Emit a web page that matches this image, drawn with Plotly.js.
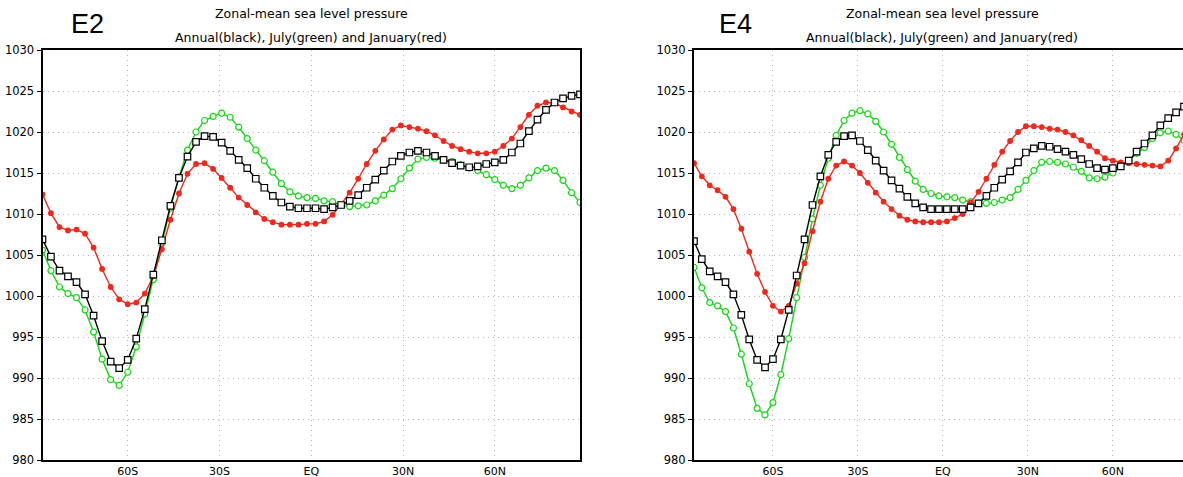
<!DOCTYPE html>
<html>
<head>
<meta charset="utf-8">
<script src="https://cdn.plot.ly/plotly-3.0.1.min.js"></script>
<style>
  html, body { margin: 0; padding: 0; background: #fff; overflow: hidden; }
  #chart { width: 1183px; height: 477px; }
</style>
</head>
<body>
<div id="chart"></div>
<script>
// Gaussian-grid latitudes (degrees)
const lat = [-87.86, -85.10, -82.31, -79.53, -76.74, -73.95, -71.16, -68.37, -65.58, -62.79,
  -60.00, -57.21, -54.42, -51.63, -48.84, -46.04, -43.25, -40.46, -37.67, -34.88,
  -32.09, -29.30, -26.51, -23.72, -20.93, -18.14, -15.35, -12.56, -9.77, -6.98,
  -4.19, -1.40, 1.40, 4.19, 6.98, 9.77, 12.56, 15.35, 18.14, 20.93,
  23.72, 26.51, 29.30, 32.09, 34.88, 37.67, 40.46, 43.25, 46.04, 48.84,
  51.63, 54.42, 57.21, 60.00, 62.79, 65.58, 68.37, 71.16, 73.95, 76.74,
  79.53, 82.31, 85.10, 87.86];

// E2 panel (hPa)
const annualE2 = [1006.9, 1004.8, 1003.1, 1002.4, 1001.7, 1000.2, 997.6, 994.5, 992.0, 991.2,
  992.2, 994.8, 998.4, 1002.6, 1006.8, 1011.0, 1014.4, 1017.0, 1018.8, 1019.5,
  1019.4, 1018.7, 1017.7, 1016.6, 1015.6, 1014.3, 1013.2, 1012.2, 1011.4, 1010.9,
  1010.7, 1010.7, 1010.7, 1010.6, 1010.8, 1011.1, 1011.6, 1012.3, 1013.2, 1014.2,
  1015.3, 1016.4, 1017.1, 1017.5, 1017.7, 1017.5, 1017.1, 1016.6, 1016.2, 1015.9,
  1015.7, 1015.8, 1016.1, 1016.3, 1016.6, 1017.5, 1018.6, 1020.1, 1021.5, 1022.7,
  1023.6, 1024.1, 1024.4, 1024.6];
const julyE2 = [1005.6, 1003.1, 1001.1, 1000.3, 999.8, 998.3, 995.6, 992.3, 989.8, 989.1,
  990.7, 993.8, 997.8, 1002.0, 1006.4, 1010.7, 1014.5, 1017.8, 1020.0, 1021.4,
  1021.9, 1022.3, 1021.8, 1020.6, 1019.2, 1017.8, 1016.5, 1015.1, 1013.7, 1012.7,
  1012.2, 1012.0, 1011.9, 1011.6, 1011.5, 1011.1, 1010.9, 1011.0, 1011.1, 1011.6,
  1012.3, 1013.1, 1014.3, 1015.6, 1016.7, 1016.9, 1016.8, 1016.6, 1016.4, 1016.0,
  1015.6, 1015.3, 1014.8, 1014.2, 1013.5, 1013.1, 1013.5, 1014.4, 1015.3, 1015.6,
  1015.3, 1014.1, 1012.6, 1011.4];
const januaryE2 = [1012.4, 1010.1, 1008.4, 1008.0, 1008.1, 1007.6, 1005.9, 1003.3, 1001.1, 999.6,
  999.0, 999.2, 1000.3, 1002.4, 1005.7, 1009.3, 1012.5, 1014.9, 1016.1, 1016.2,
  1015.5, 1014.4, 1013.2, 1012.0, 1011.1, 1010.2, 1009.4, 1009.0, 1008.7, 1008.7,
  1008.7, 1008.8, 1008.8, 1009.1, 1009.9, 1011.2, 1012.6, 1014.3, 1016.1, 1017.7,
  1019.1, 1020.3, 1020.8, 1020.6, 1020.4, 1020.1, 1019.6, 1018.9, 1018.3, 1017.9,
  1017.6, 1017.4, 1017.4, 1017.6, 1018.3, 1019.2, 1020.6, 1022.1, 1023.2, 1023.6,
  1023.5, 1023.0, 1022.5, 1022.1];

// E4 panel (hPa), visible up to 85.10N
const annualE4 = [1006.7, 1004.5, 1003.0, 1002.4, 1001.7, 1000.2, 997.7, 994.7, 992.2, 991.3,
  992.3, 994.7, 998.3, 1002.5, 1006.9, 1011.1, 1014.6, 1017.2, 1018.8, 1019.5,
  1019.6, 1018.9, 1017.8, 1016.5, 1015.3, 1014.1, 1013.1, 1012.1, 1011.3, 1010.8,
  1010.6, 1010.6, 1010.6, 1010.6, 1010.6, 1010.8, 1011.3, 1012.2, 1013.2, 1014.2,
  1015.2, 1016.3, 1017.5, 1018.0, 1018.3, 1018.2, 1017.9, 1017.6, 1017.2, 1016.7,
  1016.1, 1015.6, 1015.4, 1015.6, 1015.8, 1016.5, 1017.6, 1018.6, 1019.6, 1020.8,
  1021.7, 1022.4, 1023.1];
const julyE4 = [1003.5, 1001.0, 999.2, 998.8, 998.1, 996.1, 992.9, 989.3, 986.3, 985.5,
  987.0, 990.4, 994.8, 999.8, 1004.7, 1009.4, 1013.5, 1016.8, 1019.6, 1021.4,
  1022.3, 1022.6, 1022.2, 1021.3, 1020.0, 1018.5, 1016.9, 1015.4, 1014.0, 1013.0,
  1012.5, 1012.2, 1012.1, 1012.0, 1011.7, 1011.5, 1011.3, 1011.3, 1011.4, 1011.7,
  1012.0, 1013.0, 1014.1, 1015.3, 1016.3, 1016.4, 1016.3, 1016.1, 1015.7, 1015.2,
  1014.4, 1014.3, 1014.5, 1015.0, 1015.9, 1016.5, 1017.4, 1018.1, 1019.2, 1019.9,
  1020.1, 1019.7, 1019.0];
const januaryE4 = [1016.2, 1014.6, 1013.5, 1012.9, 1012.1, 1010.6, 1008.2, 1005.4, 1002.7, 1000.5,
  998.8, 998.1, 998.8, 1001.5, 1004.0, 1007.9, 1011.5, 1014.3, 1015.9, 1016.4,
  1015.9, 1015.0, 1013.8, 1012.6, 1011.5, 1010.6, 1009.8, 1009.3, 1009.1, 1009.0,
  1009.0, 1009.0, 1009.1, 1009.5, 1010.0, 1011.4, 1012.7, 1014.3, 1016.0, 1017.6,
  1018.9, 1020.0, 1020.7, 1020.7, 1020.6, 1020.4, 1020.3, 1020.0, 1019.6, 1019.0,
  1018.3, 1017.6, 1016.8, 1016.5, 1016.3, 1016.2, 1016.1, 1016.0, 1015.9, 1015.8,
  1016.5, 1018.0, 1019.7];

const xTickVals = [-60, -30, 0, 30, 60];
const xTickText = ['60S', '30S', 'EQ', '30N', '60N'];
const panelLabels = ['E2', 'E4'];
const titleLine1 = 'Zonal-mean sea level pressure';
const titleLine2 = 'Annual(black), July(green) and January(red)';

const W = 1183, H = 477;
const GREEN = '#14d814', RED = '#f0281c', BLACK = '#000000';
const FONT = 'DejaVu Sans, Liberation Sans, sans-serif';
const GRID = '#b4b4b4';

function series(x, y, color, symbol, size, fill, xa, ya) {
  return {
    x: x, y: y, type: 'scatter', mode: 'lines+markers',
    xaxis: xa, yaxis: ya, showlegend: false, hoverinfo: 'skip',
    line: {color: color, width: 1.4},
    marker: {symbol: symbol, size: size, color: fill, line: {color: color, width: 1.2}}
  };
}

const lat4 = lat.slice(0, januaryE4.length);
const data = [
  series(lat, julyE2, GREEN, 'circle', 6, '#ffffff', 'x', 'y'),
  series(lat, januaryE2, RED, 'circle', 4.6, RED, 'x', 'y'),
  series(lat, annualE2, BLACK, 'square', 6.5, '#ffffff', 'x', 'y'),
  series(lat4, julyE4, GREEN, 'circle', 6, '#ffffff', 'x2', 'y2'),
  series(lat4, januaryE4, RED, 'circle', 4.6, RED, 'x2', 'y2'),
  series(lat4, annualE4, BLACK, 'square', 6.5, '#ffffff', 'x2', 'y2')
];

const yTop = 50, yBot = 460;
const yDom = [(H - yBot) / H, (H - yTop) / H];

function xAxis(domain, range, anchor) {
  return {
    domain: domain, range: range, anchor: anchor, autorange: false,
    tickmode: 'array', tickvals: xTickVals, ticktext: xTickText,
    showgrid: true, gridcolor: GRID, griddash: '1px,4px', gridwidth: 1,
    zeroline: false, showline: true, linecolor: '#000', linewidth: 2, mirror: true,
    ticks: '', tickfont: {family: FONT, size: 11, color: '#000'}, automargin: false
  };
}
function yAxis(anchor, mirror) {
  return {
    domain: yDom, range: [980, 1030], anchor: anchor, autorange: false,
    tick0: 980, dtick: 5,
    showgrid: true, gridcolor: GRID, griddash: '1px,4px', gridwidth: 1,
    zeroline: false, showline: true, linecolor: '#000', linewidth: 2, mirror: mirror,
    ticks: 'outside', ticklen: 4, tickwidth: 1, tickcolor: '#000',
    tickfont: {family: FONT, size: 11.5, color: '#000'}, automargin: false
  };
}

const leftX0 = 42.5, leftX1 = 580;
const rightX0 = 694;
// right panel: 2.833 px per degree, cut by the page edge
const rightMax = -87.86 + (W - rightX0) / 2.833;

function ann(text, xpx, ypx, size, family) {
  return {
    text: text, xref: 'paper', yref: 'paper', x: xpx / W, y: (H - ypx) / H,
    xanchor: 'center', yanchor: 'middle', showarrow: false,
    font: {family: family, size: size, color: '#000'}
  };
}

const layout = {
  width: W, height: H,
  margin: {l: 0, r: 0, t: 0, b: 0, pad: 0},
  paper_bgcolor: '#fff', plot_bgcolor: '#fff',
  xaxis: xAxis([leftX0 / W, leftX1 / W], [-87.86, 87.86], 'y'),
  yaxis: yAxis('x', true),
  xaxis2: xAxis([rightX0 / W, 1], [-87.86, rightMax], 'y2'),
  yaxis2: yAxis('x2', false),
  annotations: [
    ann(panelLabels[0], 87, 24, 27, 'Liberation Sans, Arial, sans-serif'),
    ann(titleLine1, 311, 14, 12.5, FONT),
    ann(titleLine2, 311, 37, 12.5, FONT),
    ann(panelLabels[1], 735, 24, 27, 'Liberation Sans, Arial, sans-serif'),
    ann(titleLine1, 942, 14, 12.5, FONT),
    ann(titleLine2, 942, 37, 12.5, FONT)
  ]
};

Plotly.newPlot('chart', data, layout, {displayModeBar: false, staticPlot: true});
</script>
</body>
</html>
